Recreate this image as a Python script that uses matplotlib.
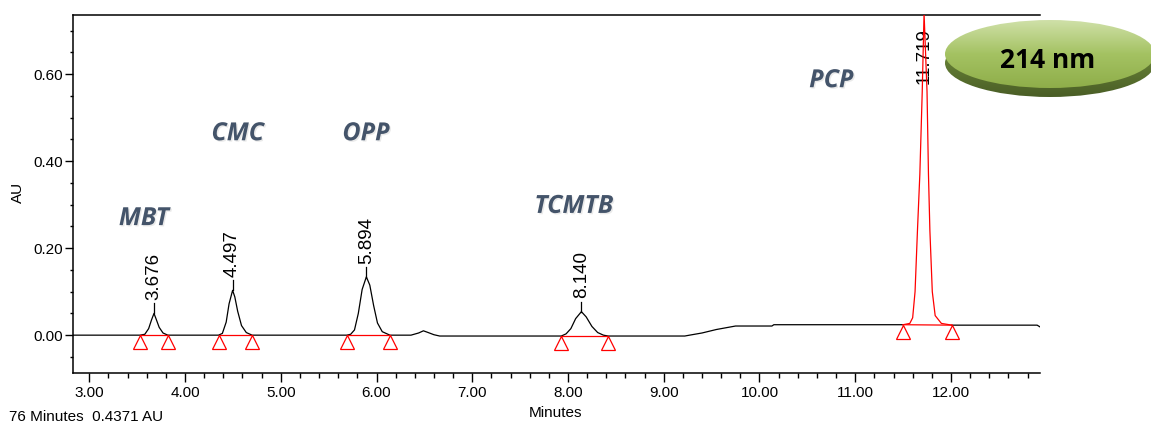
import numpy as np
import matplotlib.pyplot as plt
from matplotlib.patches import Ellipse
from matplotlib.ticker import MultipleLocator, FixedLocator
from matplotlib.colors import LinearSegmentedColormap
from matplotlib import patheffects

# detector trace, 214 nm (minutes, AU)
minutes = [2.83, 3.53, 3.58, 3.62, 3.65, 3.676, 3.70, 3.73, 3.77, 3.82,
           4.35, 4.39, 4.43, 4.46, 4.497, 4.52, 4.55, 4.59, 4.64, 4.70,
           5.69, 5.73, 5.77, 5.81, 5.85, 5.894, 5.93, 5.97, 6.01, 6.06, 6.14,
           6.36, 6.44, 6.49, 6.54, 6.60, 6.66,
           7.93, 7.98, 8.03, 8.08, 8.140, 8.19, 8.25, 8.31, 8.37, 8.42,
           9.22, 9.27, 9.40, 9.55, 9.65, 9.75, 10.13, 10.15,
           11.50, 11.57, 11.60, 11.625, 11.65, 11.675, 11.70, 11.719, 11.75,
           11.765, 11.78, 11.805, 11.835, 11.90, 12.01,
           12.90, 12.93]
absorbance = [0.000, 0.000, 0.002, 0.015, 0.035, 0.050, 0.036, 0.018, 0.005, 0.000,
              0.000, 0.004, 0.030, 0.072, 0.103, 0.088, 0.055, 0.022, 0.006, 0.000,
              0.000, 0.002, 0.012, 0.050, 0.105, 0.134, 0.115, 0.068, 0.028, 0.008, 0.000,
              0.000, 0.005, 0.010, 0.006, 0.001, -0.002,
              -0.002, 0.003, 0.015, 0.038, 0.054, 0.042, 0.020, 0.006, 0.000, -0.002,
              -0.002, 0.000, 0.005, 0.013, 0.017, 0.021, 0.021, 0.024,
              0.024, 0.027, 0.040, 0.100, 0.240, 0.370, 0.560, 0.740, 0.560,
              0.370, 0.240, 0.100, 0.045, 0.027, 0.023,
              0.023, 0.019]

# integrated peaks
compounds = ['MBT', 'CMC', 'OPP', 'TCMTB', 'PCP']
peak_rt = [3.676, 4.497, 5.894, 8.140, 11.719]
peak_start = [3.53, 4.35, 5.69, 7.93, 11.50]
peak_end = [3.82, 4.70, 6.14, 8.42, 12.01]

wavelength = '214 nm'
cursor_readout = '76 Minutes  0.4371 AU'

plt.rcParams['font.family'] = ['Liberation Sans', 'DejaVu Sans']

W, H = 1151, 423
fig = plt.figure(figsize=(W / 100, H / 100), dpi=100)
ax = fig.add_axes([73 / W, 50 / H, 967 / W, 358 / H])

t = np.array(minutes)
y = np.array(absorbance)

# last peak is drawn in red, the rest of the trace in black
inside = (t > peak_start[-1]) & (t < peak_end[-1])
red_part = (t >= peak_start[-1]) & (t <= peak_end[-1])
ax.plot(t, np.where(inside, np.nan, y), color='black', lw=0.9, zorder=3)
ax.plot(t, np.where(red_part, y, np.nan), color='red', lw=0.9, zorder=5)

# integration baselines and start/end markers
for s, e in zip(peak_start, peak_end):
    ys, ye = np.interp(s, t, y), np.interp(e, t, y)
    ax.plot([s, e], [ys, ye], color='red', lw=0.9, zorder=4)
    ax.plot([s, e], [ys - 0.016, ye - 0.016], ls='none', marker='^', ms=10,
            mfc='none', mec='red', mew=0.9, zorder=4)

ymin, ymax = -0.087, 0.736
ax.set_xlim(2.83, 12.93)
ax.set_ylim(ymin, ymax)

# retention time labels
for rt in peak_rt:
    h = np.interp(rt, t, y)
    if h + 0.16 < ymax:
        ax.plot([rt, rt], [h, h + 0.023], color='black', lw=0.9, zorder=3)
        ax.annotate(f'{rt:.3f}', (rt, h), xytext=(0, 9.5), textcoords='offset points',
                    rotation=90, ha='center', va='bottom', fontsize=13.5, zorder=2)
    else:
        ax.annotate(f'{rt:.3f}', (rt, ymax), xytext=(0, -9.5), textcoords='offset points',
                    rotation=90, ha='center', va='top', fontsize=13.5, zorder=2)

# compound names
name_xy = {'MBT': (3.57, 0.253), 'CMC': (4.55, 0.448), 'OPP': (5.89, 0.448),
           'TCMTB': (8.06, 0.281), 'PCP': (10.75, 0.570)}
for name in compounds:
    nx, ny = name_xy[name]
    txt = ax.text(nx, ny, name, ha='center', va='baseline', fontsize=18,
                  fontweight='bold', style='italic', color='#44546a',
                  family=['Open Sans', 'DejaVu Sans'], zorder=6)
    txt.set_path_effects([patheffects.withSimplePatchShadow(offset=(1, -1),
                                                            shadow_rgbFace='#9a9a9a', alpha=0.2)])

# axes styling
ax.spines['right'].set_visible(False)
for sp in ('left', 'bottom', 'top'):
    ax.spines[sp].set_linewidth(1.1)
ax.xaxis.set_major_locator(FixedLocator(np.arange(3, 13)))
ax.xaxis.set_minor_locator(MultipleLocator(0.2))
ax.yaxis.set_major_locator(FixedLocator([0.0, 0.2, 0.4, 0.6]))
ax.yaxis.set_minor_locator(MultipleLocator(0.05))
ax.xaxis.set_major_formatter(lambda v, p: f'{v:.2f}')
ax.yaxis.set_major_formatter(lambda v, p: f'{v:.2f}')
ax.tick_params(axis='x', which='major', length=6.5, width=1, pad=3, labelsize=11)
ax.tick_params(axis='x', which='minor', length=3.5, width=1)
ax.tick_params(axis='y', which='major', length=5.8, width=1, pad=1.5, labelsize=11)
ax.tick_params(axis='y', which='minor', length=2.5, width=1)

fig.text(18 / W, 1 - 192 / H, 'AU', rotation=90, ha='center', va='center', fontsize=11)
fig.text(555 / W, 1 - 413 / H, 'Minutes', ha='center', va='center', fontsize=11)
fig.text(9 / W, 2 / H, cursor_readout, ha='left', va='baseline', fontsize=11)

# wavelength badge
ov = fig.add_axes([0, 0, 1, 1])
ov.set_axis_off()
cx, cy, ew, eh, depth = 1050, 54, 210, 68, 9

rim_cmap = LinearSegmentedColormap.from_list('rim', ['#7a9842', '#4a5e26'])
face_cmap = LinearSegmentedColormap.from_list('face', ['#cfe0a8', '#a4c262', '#8fae4a'])
grad = np.linspace(0, 1, 200).reshape(-1, 1)

rim = Ellipse((cx, cy + depth), ew, eh, facecolor='none', edgecolor='none')
ov.add_patch(rim)
im = ov.imshow(grad, cmap=rim_cmap, aspect='auto', origin='upper',
               extent=(cx - ew / 2, cx + ew / 2, cy + depth + eh / 2, cy + depth - eh / 2))
im.set_clip_path(rim)

face = Ellipse((cx, cy), ew, eh, facecolor='none', edgecolor='none')
ov.add_patch(face)
im2 = ov.imshow(grad, cmap=face_cmap, aspect='auto', origin='upper',
                extent=(cx - ew / 2, cx + ew / 2, cy + eh / 2, cy - eh / 2))
im2.set_clip_path(face)

ov.text(cx - 2, cy + 7, wavelength, ha='center', va='center', fontsize=19,
        fontweight='bold', family=['Open Sans', 'DejaVu Sans'], color='black')
ov.set_xlim(0, W)
ov.set_ylim(H, 0)

fig.savefig('out.png', dpi=100)
